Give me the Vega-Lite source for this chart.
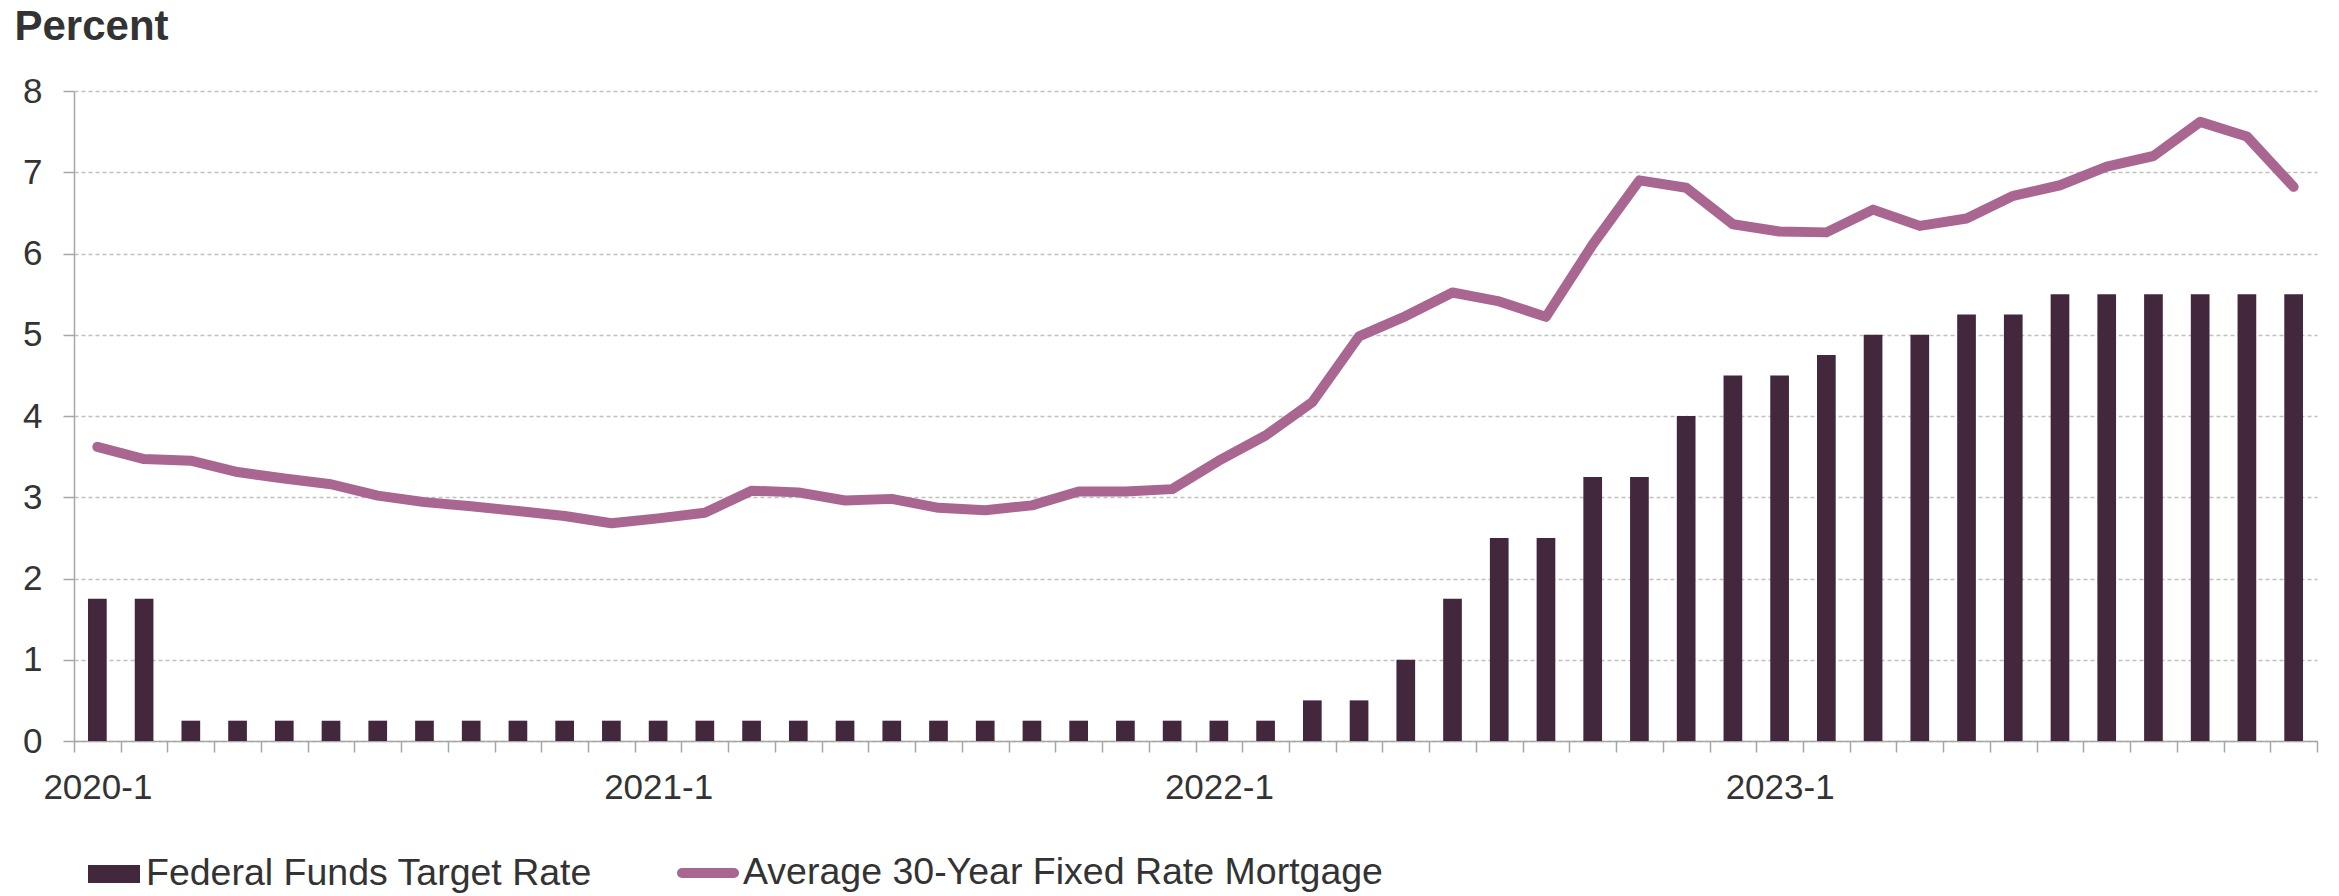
{
  "$schema": "https://vega.github.io/schema/vega-lite/v6.json",
  "width": 2243,
  "height": 650,
  "autosize": {"type": "none"},
  "padding": {"left": 74, "top": 91, "right": 22, "bottom": 155},
  "background": "white",
  "config": {
    "view": {"stroke": null},
    "font": "Liberation Sans",
    "axis": {"labelFont": "Liberation Sans", "titleFont": "Liberation Sans"}
  },
  "data": {
    "values": [
      {"m": "2020-1", "fed": 1.75, "mort": 3.62},
      {"m": "2020-2", "fed": 1.75, "mort": 3.47},
      {"m": "2020-3", "fed": 0.25, "mort": 3.45},
      {"m": "2020-4", "fed": 0.25, "mort": 3.31},
      {"m": "2020-5", "fed": 0.25, "mort": 3.23},
      {"m": "2020-6", "fed": 0.25, "mort": 3.16},
      {"m": "2020-7", "fed": 0.25, "mort": 3.02},
      {"m": "2020-8", "fed": 0.25, "mort": 2.94},
      {"m": "2020-9", "fed": 0.25, "mort": 2.89},
      {"m": "2020-10", "fed": 0.25, "mort": 2.83},
      {"m": "2020-11", "fed": 0.25, "mort": 2.77},
      {"m": "2020-12", "fed": 0.25, "mort": 2.68},
      {"m": "2021-1", "fed": 0.25, "mort": 2.74},
      {"m": "2021-2", "fed": 0.25, "mort": 2.81},
      {"m": "2021-3", "fed": 0.25, "mort": 3.08},
      {"m": "2021-4", "fed": 0.25, "mort": 3.06},
      {"m": "2021-5", "fed": 0.25, "mort": 2.96},
      {"m": "2021-6", "fed": 0.25, "mort": 2.98},
      {"m": "2021-7", "fed": 0.25, "mort": 2.87},
      {"m": "2021-8", "fed": 0.25, "mort": 2.84},
      {"m": "2021-9", "fed": 0.25, "mort": 2.90},
      {"m": "2021-10", "fed": 0.25, "mort": 3.07},
      {"m": "2021-11", "fed": 0.25, "mort": 3.07},
      {"m": "2021-12", "fed": 0.25, "mort": 3.10},
      {"m": "2022-1", "fed": 0.25, "mort": 3.45},
      {"m": "2022-2", "fed": 0.25, "mort": 3.76},
      {"m": "2022-3", "fed": 0.5, "mort": 4.17},
      {"m": "2022-4", "fed": 0.5, "mort": 4.98},
      {"m": "2022-5", "fed": 1.0, "mort": 5.23},
      {"m": "2022-6", "fed": 1.75, "mort": 5.52},
      {"m": "2022-7", "fed": 2.5, "mort": 5.41},
      {"m": "2022-8", "fed": 2.5, "mort": 5.22},
      {"m": "2022-9", "fed": 3.25, "mort": 6.11},
      {"m": "2022-10", "fed": 3.25, "mort": 6.90},
      {"m": "2022-11", "fed": 4.0, "mort": 6.81},
      {"m": "2022-12", "fed": 4.5, "mort": 6.36},
      {"m": "2023-1", "fed": 4.5, "mort": 6.27},
      {"m": "2023-2", "fed": 4.75, "mort": 6.26},
      {"m": "2023-3", "fed": 5.0, "mort": 6.54},
      {"m": "2023-4", "fed": 5.0, "mort": 6.34},
      {"m": "2023-5", "fed": 5.25, "mort": 6.43},
      {"m": "2023-6", "fed": 5.25, "mort": 6.71},
      {"m": "2023-7", "fed": 5.5, "mort": 6.84},
      {"m": "2023-8", "fed": 5.5, "mort": 7.07},
      {"m": "2023-9", "fed": 5.5, "mort": 7.20},
      {"m": "2023-10", "fed": 5.5, "mort": 7.62},
      {"m": "2023-11", "fed": 5.5, "mort": 7.44},
      {"m": "2023-12", "fed": 5.5, "mort": 6.82}
    ]
  },
  "encoding": {
    "x": {
      "field": "m",
      "type": "nominal",
      "sort": null,
      "scale": {"type": "band", "paddingInner": 0, "paddingOuter": 0},
      "axis": {
        "title": null,
        "tickBand": "extent",
        "labelAngle": 0,
        "labelExpr": "test(/-1$/, datum.label) ? datum.label : ''",
        "labelFontSize": 35,
        "labelColor": "#333333",
        "labelPadding": 18,
        "labelOverlap": false,
        "labelBound": false,
        "labelFlush": false,
        "labelLimit": 0,
        "tickSize": 11,
        "tickColor": "#a6a6a6",
        "tickWidth": 1.5,
        "domainColor": "#a6a6a6",
        "domainWidth": 1.5,
        "grid": false
      }
    }
  },
  "layer": [
    {
      "mark": {"type": "bar", "width": {"band": 0.4}},
      "encoding": {
        "y": {
          "field": "fed",
          "type": "quantitative",
          "scale": {"domain": [0, 8], "nice": false},
          "axis": {
            "values": [0, 1, 2, 3, 4, 5, 6, 7, 8],
            "format": "d",
            "title": "Percent",
            "titleAngle": 0,
            "titleAlign": "left",
            "titleBaseline": "alphabetic",
            "titleX": -60,
            "titleY": -52,
            "titleFontSize": 42,
            "titleFontWeight": "bold",
            "titleColor": "#333333",
            "labelFontSize": 35,
            "labelColor": "#333333",
            "labelPadding": 21,
            "labelLimit": 0,
            "tickSize": 11,
            "tickColor": "#a6a6a6",
            "tickWidth": 1.5,
            "domainColor": "#a6a6a6",
            "domainWidth": 1.5,
            "grid": true,
            "gridColor": "#bfbfbf",
            "gridDash": [4, 3],
            "gridWidth": 1.3
          }
        },
        "fill": {
          "datum": "Federal Funds Target Rate",
          "scale": {"range": ["#43273c"]},
          "legend": {
            "orient": "none",
            "legendX": 14,
            "legendY": 757,
            "title": null,
            "padding": 0,
            "symbolType": "M-1,-0.35H1V0.35H-1Z",
            "symbolSize": 2704,
            "symbolStrokeWidth": 0,
            "labelFontSize": 37.5,
            "labelColor": "#333333",
            "labelFont": "Liberation Sans",
            "labelOffset": 6,
            "labelLimit": 0
          }
        }
      }
    },
    {
      "mark": {"type": "line", "strokeWidth": 10, "strokeCap": "round", "strokeJoin": "round"},
      "encoding": {
        "y": {"field": "mort", "type": "quantitative"},
        "stroke": {
          "datum": "Average 30-Year Fixed Rate Mortgage",
          "scale": {"range": ["#a86690"]},
          "legend": {
            "orient": "none",
            "legendX": 603,
            "legendY": 751,
            "title": null,
            "padding": 0,
            "symbolType": "stroke",
            "symbolSize": 2704,
            "symbolStrokeWidth": 10,
            "labelFontSize": 37.5,
            "labelColor": "#333333",
            "labelFont": "Liberation Sans",
            "labelOffset": 4,
            "labelLimit": 0,
            "encode": {"symbols": {"update": {"strokeCap": {"value": "round"}}}}
          }
        }
      }
    }
  ]
}
